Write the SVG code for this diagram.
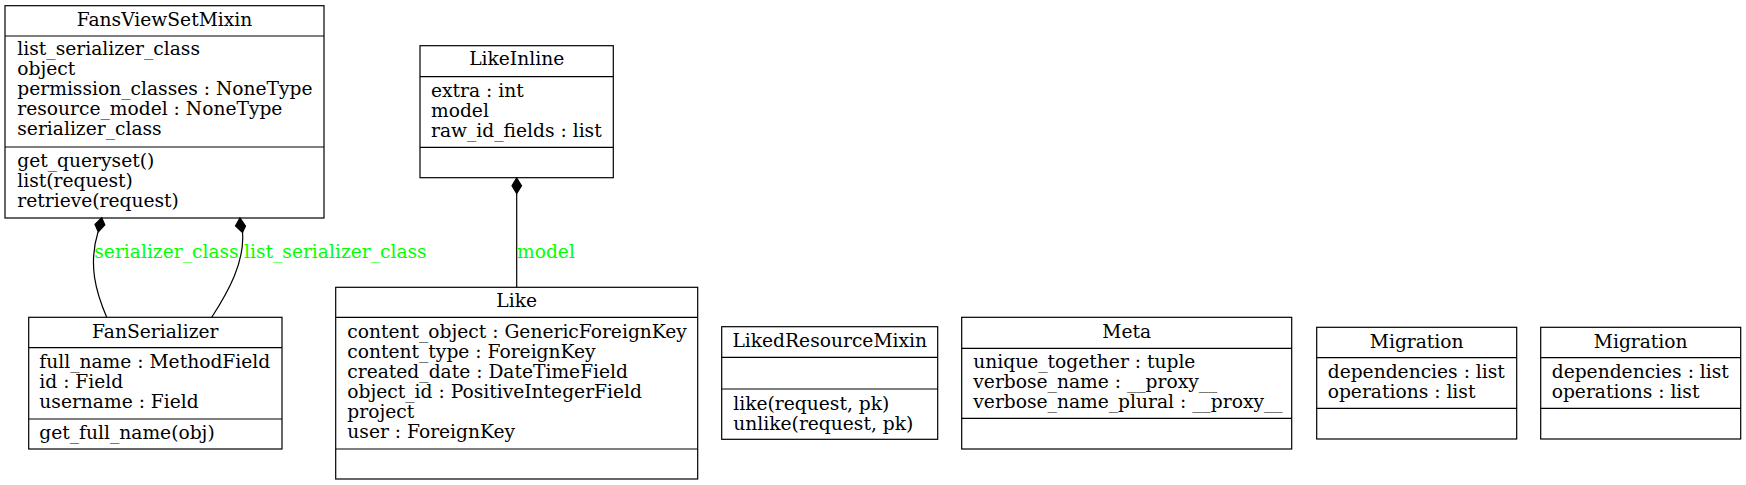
<svg xmlns="http://www.w3.org/2000/svg" width="1746" height="485" viewBox="0 0 1746 485">
<style>
.box{fill:none;stroke:#000;stroke-width:1.2}
.div{stroke:#000;stroke-width:1.2}
text{font-family:"DejaVu Serif",serif;font-size:18.67px;fill:#000}
.t{text-anchor:middle}
.lbl{fill:#00ff00}
.edge{fill:none;stroke:#000;stroke-width:1.2}
.dia{fill:#000;stroke:#000;stroke-width:1.2}
</style>
<rect width="1746" height="485" fill="#fff"/>
<g id="FansViewSetMixin">
<rect class="box" x="5" y="5.7" width="319" height="212.3"/>
<line class="div" x1="5" y1="36" x2="324" y2="36"/>
<line class="div" x1="5" y1="147" x2="324" y2="147"/>
<text class="t" x="164.5" y="26">FansViewSetMixin</text>
<text x="17.3" y="55">list_serializer_class</text>
<text x="17.3" y="75">object</text>
<text x="17.3" y="95">permission_classes : NoneType</text>
<text x="17.3" y="115">resource_model : NoneType</text>
<text x="17.3" y="135">serializer_class</text>
<text x="17.3" y="167">get_queryset()</text>
<text x="17.3" y="187">list(request)</text>
<text x="17.3" y="207">retrieve(request)</text>
</g>
<g id="FanSerializer">
<rect class="box" x="28.7" y="317.3" width="253.3" height="131.7"/>
<line class="div" x1="28.7" y1="347.7" x2="282" y2="347.7"/>
<line class="div" x1="28.7" y1="419" x2="282" y2="419"/>
<text class="t" x="155.3" y="337.7">FanSerializer</text>
<text x="39.3" y="367.7">full_name : MethodField</text>
<text x="39.3" y="387.7">id : Field</text>
<text x="39.3" y="407.7">username : Field</text>
<text x="39.3" y="439">get_full_name(obj)</text>
</g>
<g id="LikeInline">
<rect class="box" x="420" y="45.7" width="193.3" height="132"/>
<line class="div" x1="420" y1="76.7" x2="613.3" y2="76.7"/>
<line class="div" x1="420" y1="147.3" x2="613.3" y2="147.3"/>
<text class="t" x="516.7" y="65">LikeInline</text>
<text x="431" y="96.7">extra : int</text>
<text x="431" y="116.7">model</text>
<text x="431" y="136.7">raw_id_fields : list</text>
</g>
<g id="Like">
<rect class="box" x="335.7" y="287.3" width="362" height="191.7"/>
<line class="div" x1="335.7" y1="317.3" x2="697.7" y2="317.3"/>
<line class="div" x1="335.7" y1="449" x2="697.7" y2="449"/>
<text class="t" x="516.7" y="307.3">Like</text>
<text x="347.3" y="338.3">content_object : GenericForeignKey</text>
<text x="347.3" y="358.3">content_type : ForeignKey</text>
<text x="347.3" y="378.3">created_date : DateTimeField</text>
<text x="347.3" y="398.3">object_id : PositiveIntegerField</text>
<text x="347.3" y="418.3">project</text>
<text x="347.3" y="438.3">user : ForeignKey</text>
</g>
<g id="LikedResourceMixin">
<rect class="box" x="721.7" y="326.7" width="216" height="112.6"/>
<line class="div" x1="721.7" y1="357.3" x2="937.7" y2="357.3"/>
<line class="div" x1="721.7" y1="389" x2="937.7" y2="389"/>
<text class="t" x="829.7" y="346.7">LikedResourceMixin</text>
<text x="733.3" y="410">like(request, pk)</text>
<text x="733.3" y="430">unlike(request, pk)</text>
</g>
<g id="Meta">
<rect class="box" x="961.7" y="317.3" width="330" height="131.7"/>
<line class="div" x1="961.7" y1="348.3" x2="1291.7" y2="348.3"/>
<line class="div" x1="961.7" y1="418.3" x2="1291.7" y2="418.3"/>
<text class="t" x="1126.7" y="337.7">Meta</text>
<text x="973.3" y="367.7">unique_together : tuple</text>
<text x="973.3" y="387.7">verbose_name : __proxy__</text>
<text x="973.3" y="407.7">verbose_name_plural : __proxy__</text>
</g>
<g id="Migration1">
<rect class="box" x="1316.7" y="327.3" width="200" height="111.7"/>
<line class="div" x1="1316.7" y1="357.7" x2="1516.7" y2="357.7"/>
<line class="div" x1="1316.7" y1="408.3" x2="1516.7" y2="408.3"/>
<text class="t" x="1416.7" y="347.7">Migration</text>
<text x="1327.7" y="378">dependencies : list</text>
<text x="1327.7" y="398">operations : list</text>
</g>
<g id="Migration2">
<rect class="box" x="1540.7" y="327.3" width="200" height="111.7"/>
<line class="div" x1="1540.7" y1="357.7" x2="1740.7" y2="357.7"/>
<line class="div" x1="1540.7" y1="408.3" x2="1740.7" y2="408.3"/>
<text class="t" x="1640.7" y="347.7">Migration</text>
<text x="1551.7" y="378">dependencies : list</text>
<text x="1551.7" y="398">operations : list</text>
</g>
<g id="connectors">
<path class="edge" d="M106.7,317.3 C96,292 88,265 98,232"/>
<polygon class="dia" points="101.7,217.8 104.8,225 98.3,232 95,224.5"/>
<text class="lbl" x="94.3" y="258">serializer_class</text>
<path class="edge" d="M211.7,317.3 C228,292 245,262 242.5,232"/>
<polygon class="dia" points="240,218 245.5,226 242.5,232.5 235.5,226"/>
<text class="lbl" x="244" y="258">list_serializer_class</text>
<path class="edge" d="M516.7,287.3 L516.7,193.5"/>
<polygon class="dia" points="516.7,178 521.5,185.7 516.7,193.5 512,185.7"/>
<text class="lbl" x="517" y="258">model</text>
</g>
</svg>
